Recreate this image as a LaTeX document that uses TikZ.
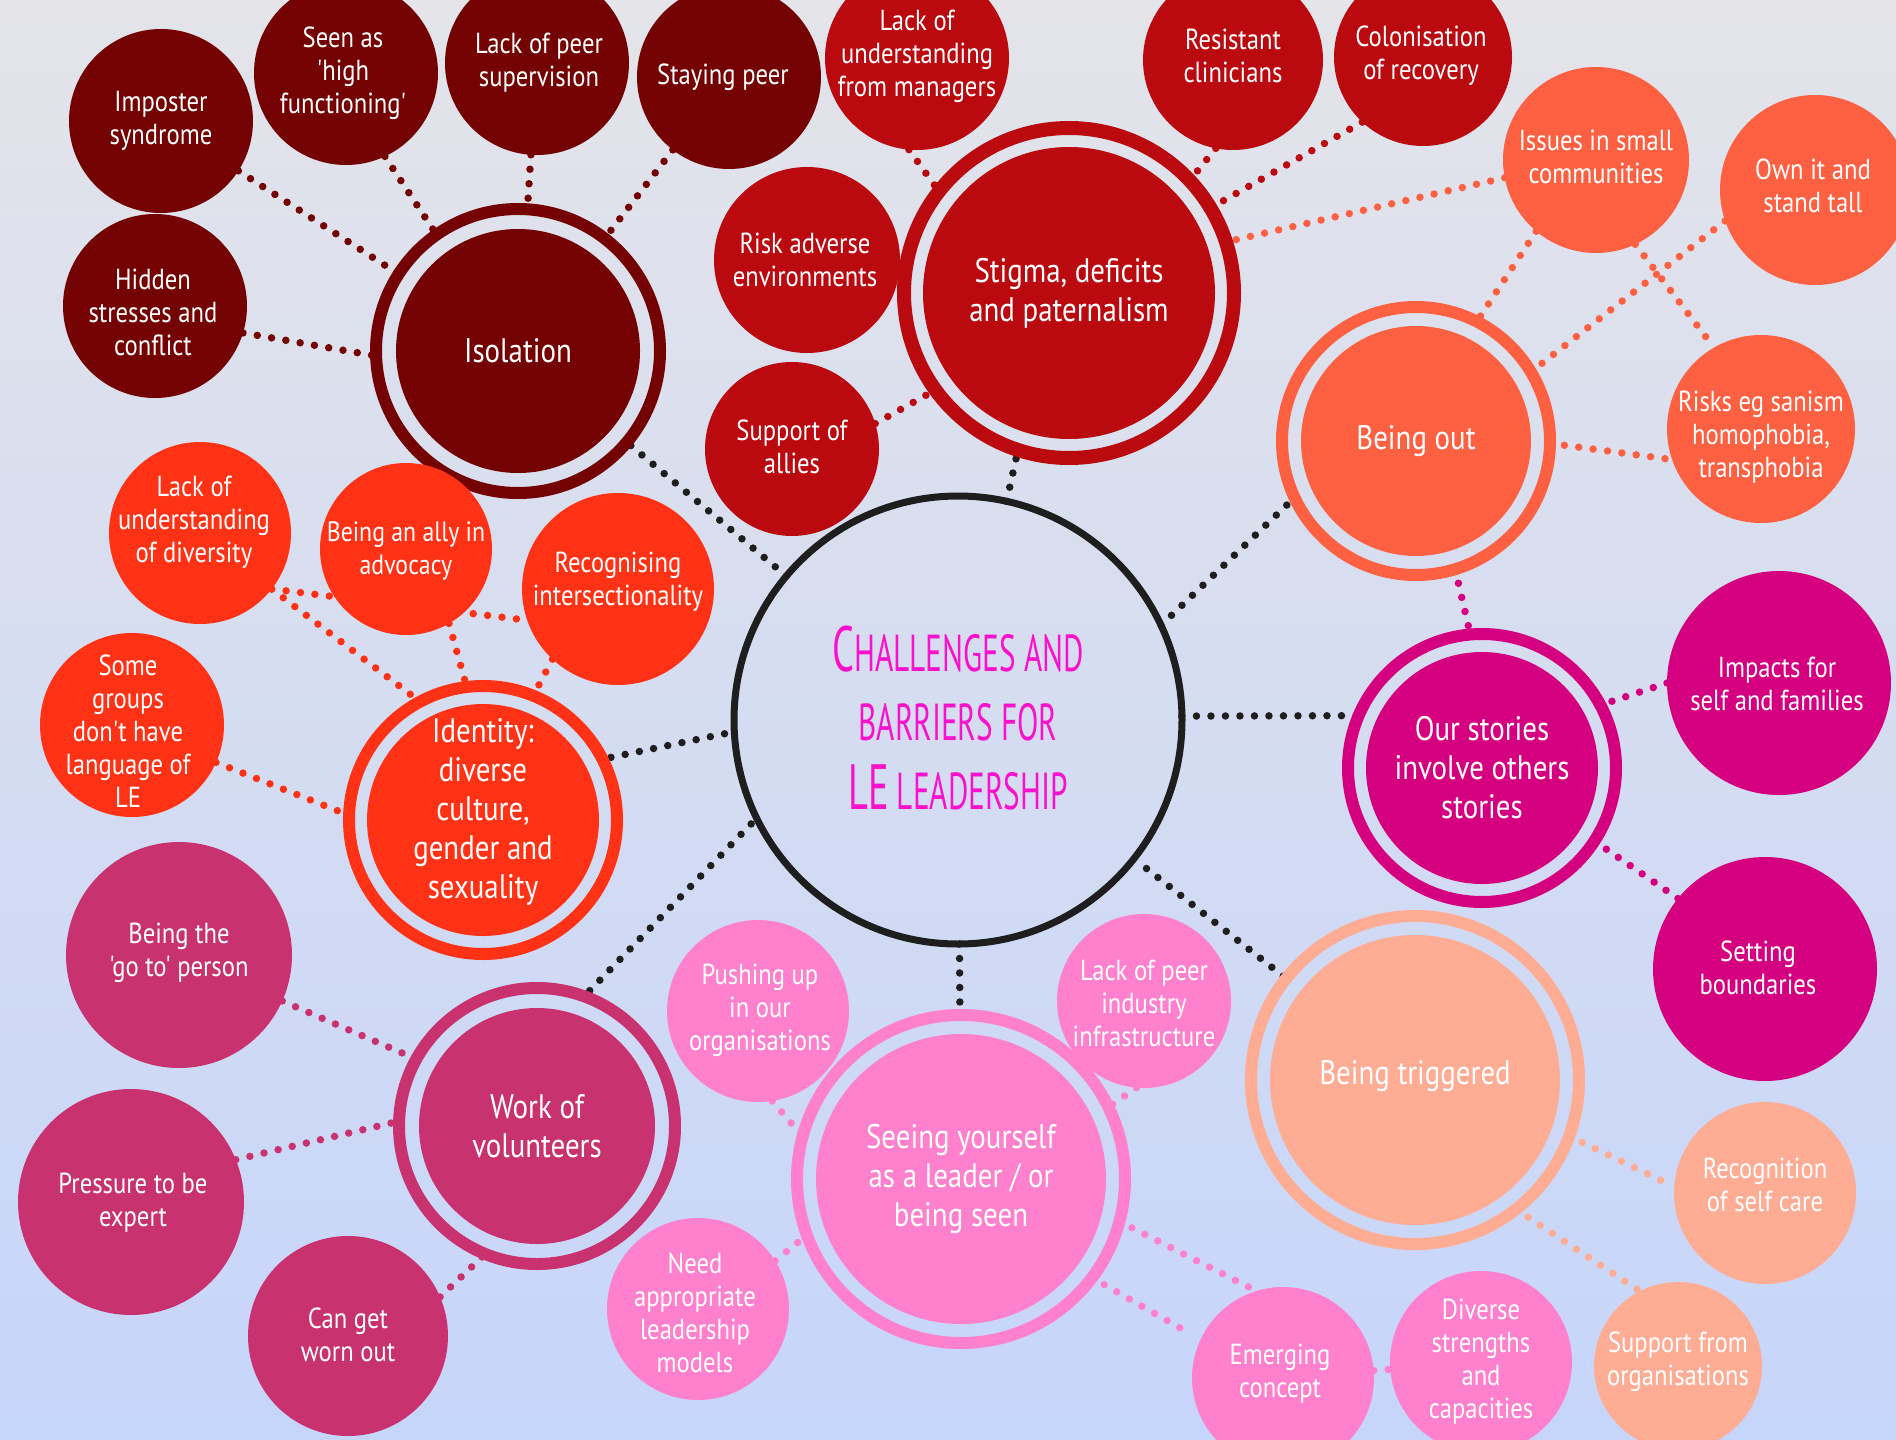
\documentclass[tikz,border=0pt]{standalone}
\usepackage{fontspec}
\setmainfont[FakeStretch=0.85,Ligatures=TeXOff]{PT Sans}
\newfontfamily\ttlfont[FakeStretch=0.6]{PT Sans}

\definecolor{bgTop}{RGB}{228,228,233}
\definecolor{bgBot}{RGB}{198,213,250}
\definecolor{cMaroon}{RGB}{116,2,2}
\definecolor{cRed}{RGB}{186,10,16}
\definecolor{cOrange}{RGB}{255,50,22}
\definecolor{cCoral}{RGB}{254,96,66}
\definecolor{cMagenta}{RGB}{212,0,128}
\definecolor{cPeach}{RGB}{255,172,148}
\definecolor{cPink}{RGB}{255,128,204}
\definecolor{cRasp}{RGB}{200,50,110}
\definecolor{cInk}{RGB}{30,30,30}
\definecolor{cTitle}{RGB}{248,18,205}

\pgfdeclarelayer{bg}
\pgfdeclarelayer{lines}
\pgfsetlayers{bg,lines,main}

\newcommand\titlecap[1]{{\fontsize{64}{69}\selectfont #1}}

\begin{document}
\begin{tikzpicture}[x=1pt,y=-1pt,
  bub/.style 2 args={circle, fill=#1, minimum size=#2, inner sep=0pt, outer sep=0pt},
  hubring/.style 2 args={circle, draw=#1, line width=12pt, minimum size=#2, inner sep=0pt, outer sep=0pt},
  sattxt/.style={align=center, text=white, inner sep=0pt, font=\fontsize{29}{33}\selectfont},
  hubtxt/.style={align=center, text=white, inner sep=0pt, font=\fontsize{34}{39}\selectfont},
  conn/.style={draw=#1, line width=7.5pt, line cap=round, dash pattern=on 0pt off 14.5pt}
]
\useasboundingbox (0,0) rectangle (1896,1440);
\begin{pgfonlayer}{bg}
  \shade[top color=bgTop, bottom color=bgBot] (0,0) rectangle (1896,1440);
\end{pgfonlayer}

% ---------- central circle ----------
\node[circle, draw=cInk, line width=7pt, minimum size=448, inner sep=0pt, outer sep=0pt] (core) at (958,720) {};
\node[align=center, text=cTitle, inner sep=0pt, font=\ttlfont\fontsize{52}{69}\selectfont] (core-t) at (958,718)
  {\titlecap{C}HALLENGES AND\\
   BARRIERS FOR\\
   \titlecap{LE} LEADERSHIP};

% ---------- hubs ----------
\node[hubring={cMaroon}{284}] (iso) at (518,351) {};
\node[bub={cMaroon}{244}] (iso-in) at (iso) {};
\node[hubtxt] (iso-t) at (iso) {Isolation};

\node[hubring={cRed}{330}, line width=14pt] (stig) at (1069,293) {};
\node[bub={cRed}{292}] (stig-in) at (stig) {};
\node[hubtxt] (stig-t) at (stig) {Stigma, deficits\\and paternalism};

\node[hubring={cOrange}{268}] (ident) at (483,820) {};
\node[bub={cOrange}{232}] (ident-in) at (ident) {};
\node[hubtxt] (ident-t) at (483,812) {Identity:\\diverse\\culture,\\gender and\\sexuality};

\node[hubring={cCoral}{268}] (out) at (1416,441) {};
\node[bub={cCoral}{230}] (out-in) at (out) {};
\node[hubtxt] (out-t) at (out) {Being out};

\node[hubring={cMagenta}{268}] (our) at (1482,768) {};
\node[bub={cMagenta}{232}] (our-in) at (our) {};
\node[hubtxt] (our-t) at (our) {Our stories\\involve others\\stories};

\node[hubring={cPeach}{328}] (trig) at (1415,1080) {};
\node[bub={cPeach}{290}] (trig-in) at (trig) {};
\node[hubtxt] (trig-t) at (1415,1076) {Being triggered};

\node[hubring={cPink}{328}] (seen) at (961,1179) {};
\node[bub={cPink}{290}] (seen-in) at (seen) {};
\node[hubtxt] (seen-t) at (seen) {Seeing yourself\\as a leader / or\\being seen};

\node[hubring={cRasp}{276}] (vol) at (537,1126) {};
\node[bub={cRasp}{236}] (vol-in) at (vol) {};
\node[hubtxt] (vol-t) at (vol) {Work of\\volunteers};

% ---------- isolation group ----------
\node[bub={cMaroon}{184}] (imp) at (161,121) {};
\node[sattxt] (imp-t) at (161,121) {Imposter\\syndrome};
\node[bub={cMaroon}{184}] (hid) at (155,306) {};
\node[sattxt] (hid-t) at (153,312) {Hidden\\stresses and\\conflict};
\node[bub={cMaroon}{184}] (high) at (346,73) {};
\node[sattxt] (high-t) at (343,73) {Seen as\\'high\\functioning'};
\node[bub={cMaroon}{184}] (psup) at (537,63) {};
\node[sattxt] (psup-t) at (539,63) {Lack of peer\\supervision};
\node[bub={cMaroon}{184}] (stay) at (729,77) {};
\node[sattxt] (stay-t) at (723,77) {Staying peer};

% ---------- stigma group ----------
\node[bub={cRed}{184}] (mgr) at (917,58) {};
\node[sattxt] (mgr-t) at (917,56) {Lack of\\understanding\\from managers};
\node[bub={cRed}{180}] (resist) at (1233,60) {};
\node[sattxt] (resist-t) at (1233,56) {Resistant\\clinicians};
\node[bub={cRed}{178}] (colon) at (1423,57) {};
\node[sattxt] (colon-t) at (1421,56) {Colonisation\\of recovery};
\node[bub={cRed}{186}] (risk) at (807,260) {};
\node[sattxt] (risk-t) at (805,260) {Risk adverse\\environments};
\node[bub={cRed}{174}] (allies) at (792,449) {};
\node[sattxt] (allies-t) at (792,447) {Support of\\allies};

% ---------- being out group ----------
\node[bub={cCoral}{186}] (issues) at (1596,160) {};
\node[sattxt] (issues-t) at (1596,157) {Issues in small\\communities};
\node[bub={cCoral}{190}] (own) at (1815,190) {};
\node[sattxt] (own-t) at (1813,186) {Own it and\\stand tall};
\node[bub={cCoral}{188}] (risks) at (1761,429) {};
\node[sattxt] (risks-t) at (1761,437) {Risks eg sanism\\homophobia,\\transphobia};

% ---------- our stories group ----------
\node[bub={cMagenta}{224}] (impact) at (1779,683) {};
\node[sattxt] (impact-t) at (1777,684) {Impacts for\\self and families};
\node[bub={cMagenta}{224}] (bound) at (1765,969) {};
\node[sattxt] (bound-t) at (1758,968) {Setting\\boundaries};

% ---------- triggered group ----------
\node[bub={cPeach}{182}] (care) at (1765,1193) {};
\node[sattxt] (care-t) at (1765,1185) {Recognition\\of self care};
\node[bub={cPeach}{168}] (sorg) at (1678,1366) {};
\node[sattxt] (sorg-t) at (1678,1362) {Support from\\organisations};

% ---------- seeing group ----------
\node[bub={cPink}{182}] (diverse) at (1481,1362) {};
\node[sattxt] (diverse-t) at (1481,1362) {Diverse\\strengths\\and\\capacities};
\node[bub={cPink}{182}] (emerg) at (1283,1378) {};
\node[sattxt] (emerg-t) at (1280,1374) {Emerging\\concept};
\node[bub={cPink}{182}] (need) at (698,1309) {};
\node[sattxt] (need-t) at (695,1313) {Need\\appropriate\\leadership\\models};
\node[bub={cPink}{182}] (push) at (758,1011) {};
\node[sattxt] (push-t) at (760,1010) {Pushing up\\in our\\organisations};
\node[bub={cPink}{174}] (lpi) at (1144,1001) {};
\node[sattxt] (lpi-t) at (1144,1003) {Lack of peer\\industry\\infrastructure};

% ---------- volunteers group ----------
\node[bub={cRasp}{226}] (goto) at (179,955) {};
\node[sattxt] (goto-t) at (179,953) {Being the\\'go to' person};
\node[bub={cRasp}{226}] (press) at (131,1202) {};
\node[sattxt] (press-t) at (133,1203) {Pressure to be\\expert};
\node[bub={cRasp}{200}] (worn) at (348,1336) {};
\node[sattxt] (worn-t) at (348,1335) {Can get\\worn out};

% ---------- identity group ----------
\node[bub={cOrange}{182}] (ldiv) at (200,533) {};
\node[sattxt] (ldiv-t) at (194,522) {Lack of\\understanding\\of diversity};
\node[bub={cOrange}{172}] (ally) at (406,549) {};
\node[sattxt, font=\fontsize{28}{33}\selectfont] (ally-t) at (406,551) {Being an ally in\\advocacy};
\node[bub={cOrange}{192}] (recog) at (618,589) {};
\node[sattxt] (recog-t) at (618,582) {Recognising\\intersectionality};
\node[bub={cOrange}{184}] (some) at (132,725) {};
\node[sattxt] (some-t) at (128,731) {Some\\groups\\don't have\\language of\\LE};

% ---------- dotted connectors ----------
\begin{pgfonlayer}{lines}
  % centre to hubs
  \draw[conn=cInk] (core) -- (iso);
  \draw[conn=cInk] (core) -- (stig.-108);
  \draw[conn=cInk] (core.25) -- (out.205);
  \draw[conn=cInk] (core.1) -- (our.157);
  \draw[conn=cInk, shorten <=16pt] (core) -- (trig);
  \draw[conn=cInk] (core) -- (seen);
  \draw[conn=cInk, shorten <=8pt] (core.206) -- (vol.70);
  \draw[conn=cInk, shorten <=10pt] (core.183) -- (ident.27);
  % isolation
  \draw[conn=cMaroon] (imp) -- (iso);
  \draw[conn=cMaroon] (hid.-17) -- (iso.182);
  \draw[conn=cMaroon] (high.-65) -- (iso.125);
  \draw[conn=cMaroon] (psup) -- (iso);
  \draw[conn=cMaroon] (stay) -- (iso);
  % stigma
  \draw[conn=cRed] (mgr.-95) -- (stig.142);
  \draw[conn=cRed] (resist.-101) -- (stig.43);
  \draw[conn=cRed] (colon.-133) -- (stig.31);
  \draw[conn=cRed] (risk) -- (stig);
  \draw[conn=cRed] (allies.17) -- (stig.216);
  % being out
  \draw[conn=cCoral] (issues.191) -- (stig.18);
  \draw[conn=cCoral] (issues.-130) -- (out.63);
  \draw[conn=cCoral] (own.199) -- (out.31);
  \draw[conn=cCoral] (issues.-65) -- (risks.120);
  \draw[conn=cCoral] (out.-1) -- (risks.199);
  % our stories
  \draw[conn=cMagenta] (out.-73) -- (our.95);
  \draw[conn=cMagenta] (impact.180) -- (our.28);
  \draw[conn=cMagenta] (bound.141) -- (our.-33);
  % being triggered
  \draw[conn=cPeach, shorten >=10pt] (trig.-20) -- (care.176);
  \draw[conn=cPeach] (trig.-52) -- (sorg.117);
  % seeing yourself
  \draw[conn=cPink] (push.-81) -- (seen.165);
  \draw[conn=cPink] (lpi.-95) -- (seen.26);
  \draw[conn=cPink] (need.32) -- (seen.200);
  \draw[conn=cPink, shorten <=14pt] (seen.-15) -- (emerg.107);
  \draw[conn=cPink, shorten <=14pt, shorten >=14pt] (seen.-37) -- (emerg.155);
  \draw[conn=cPink] (emerg) -- (diverse);
  % volunteers
  \draw[conn=cRasp] (goto.-24) -- (vol.151);
  \draw[conn=cRasp] (press.22) -- (vol.178);
  \draw[conn=cRasp] (worn.23) -- (vol.-112);
  % identity
  \draw[conn=cOrange] (ldiv.-38) -- (recog.199);
  \draw[conn=cOrange] (ldiv.-38) -- (ident.118);
  \draw[conn=cOrange] (ally.-60) -- (ident.97);
  \draw[conn=cOrange] (recog.227) -- (ident.68);
  \draw[conn=cOrange] (some.-24) -- (ident.178);
\end{pgfonlayer}
\end{tikzpicture}
\end{document}
